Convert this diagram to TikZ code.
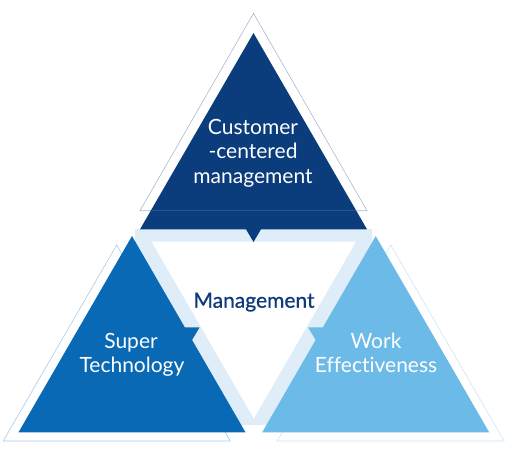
\documentclass[tikz,border=0pt]{standalone}
\usepackage{fontspec}
\setmainfont{Lato}[Ligatures={NoCommon,NoContextual}]
\definecolor{topcol}{HTML}{0B3C7C}
\definecolor{leftcol}{HTML}{0A69B4}
\definecolor{rightcol}{HTML}{6CBAE7}
\definecolor{bandcol}{HTML}{DEEDF8}
\definecolor{olTop}{HTML}{A7B8D2}
\definecolor{olLeft}{HTML}{A6CBEA}
\definecolor{olRight}{HTML}{C9E5F6}
\definecolor{mgmt}{HTML}{0E3A7C}
\tikzset{
  outl/.style={line width=0.6pt, line join=miter},
  wtext/.style={text=white, font=\fontsize{21}{25}\selectfont, inner sep=0pt, anchor=base},
  ctext/.style={text=mgmt, font=\fontsize{21}{25}\selectfont\addfontfeature{FakeBold=0.8}, inner sep=0pt, anchor=base}
}
\begin{document}
\begin{tikzpicture}[x=1pt,y=-1pt]
\useasboundingbox (0,0) rectangle (510,455);
% outline triangles (behind)
\draw[outl, olTop] (253.5,13.3) -- (367,210.7) -- (140,210.7) -- cycle;
\draw[outl, olLeft] (116.7,245) -- (230.2,441) -- (3.2,441) -- cycle;
\draw[outl, olRight] (390.7,245) -- (504.2,441) -- (277.2,441) -- cycle;
% light band and white centre
\fill[bandcol] (135,229) -- (372,229) -- (372,242) -- (270,425) -- (237,425) -- (135,242) -- cycle;
\fill[white] (151.7,241.7) -- (356,241.7) -- (253.8,418.5) -- cycle;
% bottom triangles with pointers
\fill[leftcol] (132,236) -- (184.8,327.3) -- (199.6,327.3) -- (192.1,340) -- (245.5,432.3) -- (18.5,432.3) -- cycle;
\fill[rightcol] (375.7,236) -- (489.2,432.3) -- (262.2,432.3) -- (315.6,340) -- (308,327.3) -- (322.9,327.3) -- cycle;
% top triangle with pointer
\fill[topcol] (253.5,33) -- (367,229.3) -- (261,229.3) -- (253.5,242) -- (246,229.3) -- (140,229.3) -- cycle;
\draw[white, opacity=0.12, line width=0.6pt] (151.5,210.7) -- (355.5,210.7);
% texts
\node[wtext] (c1) at (253,134) {Customer};
\node[wtext] (c2) at (253,158.5) {-centered};
\node[wtext] (c3) at (253,183) {management};
\node[ctext] (m) at (254,307.7) {Management};
\node[wtext] (s1) at (131,348.3) {Super};
\node[wtext] (s2) at (132,372.7) {Technology};
\node[wtext] (w1) at (376,348.3) {Work};
\node[wtext] (w2) at (376,372.7) {Effectiveness};
\end{tikzpicture}
\end{document}
